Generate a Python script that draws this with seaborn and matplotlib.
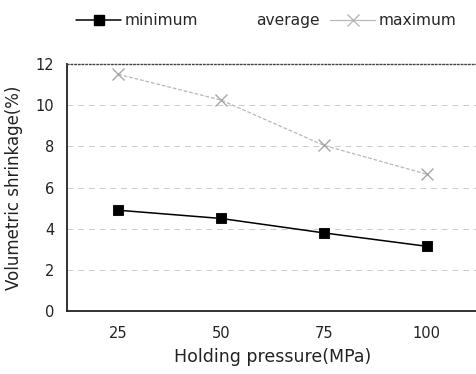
import pandas as pd
import matplotlib.pyplot as plt
import seaborn as sns
from matplotlib.lines import Line2D

pressure = ['25', '50', '75', '100']
minimum = [4.9, 4.5, 3.8, 3.15]
maximum = [11.5, 10.25, 8.05, 6.65]

df = pd.DataFrame({'pressure': pressure, 'minimum': minimum, 'maximum': maximum})

sns.set_style('white')
plt.rcParams['font.family'] = ['DejaVu Sans']

fig = plt.figure(figsize=(4.77, 3.74), dpi=100)
ax = fig.add_axes([0.140, 0.168, 0.862, 0.661])

sns.lineplot(data=df, x='pressure', y='maximum', ax=ax, color='#b8b8b8', lw=0.9,
             linestyle=(0, (3, 1.5)), marker='x', markersize=8, markeredgecolor='#a8a8a8',
             markeredgewidth=1.0)
sns.lineplot(data=df, x='pressure', y='minimum', ax=ax, color='black', lw=1.1,
             marker='s', markersize=7, markeredgecolor='#111111')

ax.set_xlim(-0.5, 3.5)
ax.set_ylim(0, 12)
ax.set_yticks(range(0, 13, 2))
ax.yaxis.grid(True, color='#cccccc', linestyle=(0, (6, 5)), lw=0.7)
for s in ['left', 'bottom']:
    ax.spines[s].set_color('#222222')
    ax.spines[s].set_linewidth(1.3)
ax.spines['top'].set_color('#444444')
ax.spines['top'].set_linestyle(':')
ax.spines['top'].set_linewidth(1.0)
ax.spines['right'].set_visible(False)
ax.tick_params(axis='both', length=0, labelsize=10.5, colors='#222222')
ax.tick_params(axis='y', pad=9)
ax.tick_params(axis='x', pad=11)
ax.set_xlabel('Holding pressure(MPa)', fontsize=12.5, labelpad=5, color='#222222')
ax.set_ylabel('Volumetric shrinkage(%)', fontsize=12, labelpad=9, color='#222222')

handles = [
    Line2D([], [], color='black', lw=1.1, marker='s', markersize=7),
    Line2D([], [], color='white', lw=0.9),
    Line2D([], [], color='#b8b8b8', lw=0.9, marker='x', markersize=8),
]
fig.legend(handles, ['minimum', 'average', 'maximum'], loc='center', ncol=3,
           bbox_to_anchor=(0.558, 0.945), frameon=False, fontsize=11.2,
           handlelength=2.9, columnspacing=0.65, handletextpad=0.2)

plt.savefig('out.png')
